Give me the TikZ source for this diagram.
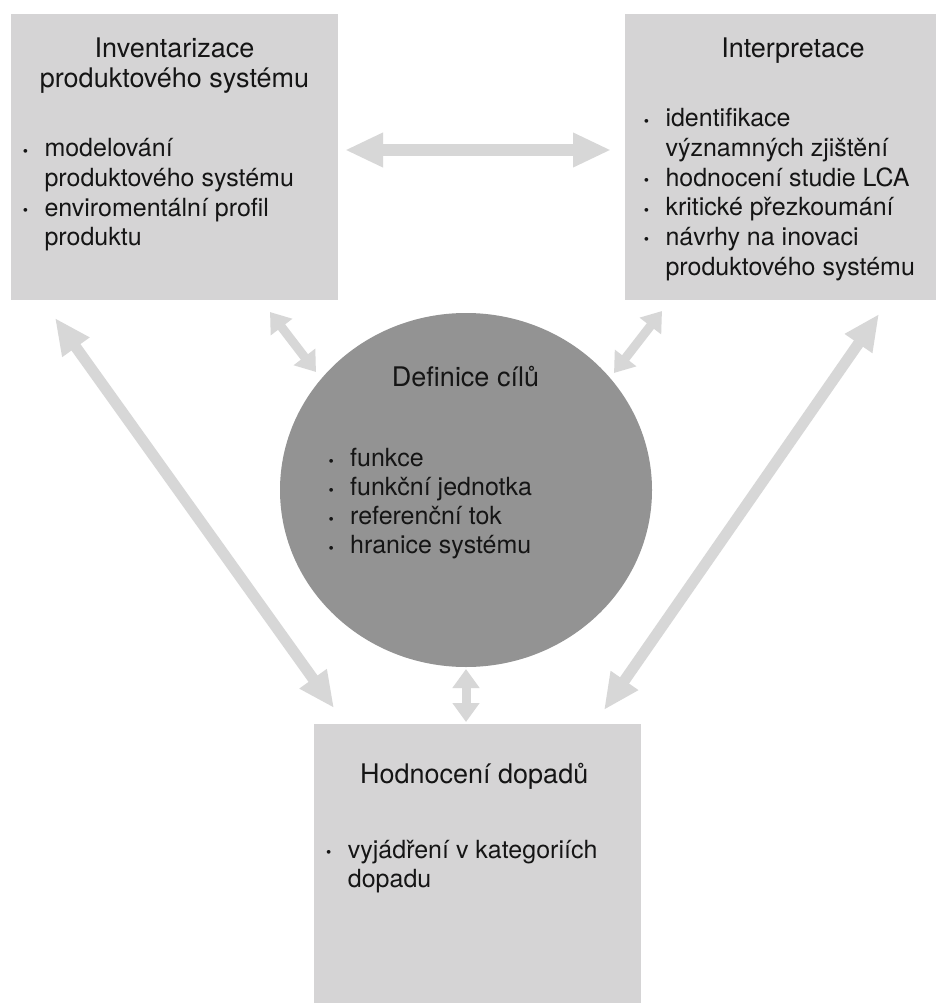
\documentclass[tikz,border=0pt]{standalone}
\usepackage{fontspec}
\setmainfont{TeX Gyre Heros}
\usetikzlibrary{arrows.meta,shapes.geometric}
\definecolor{boxgray}{HTML}{D5D4D5}
\definecolor{arrowgray}{HTML}{D7D7D7}
\definecolor{circgray}{HTML}{939393}
\definecolor{txtcol}{HTML}{151515}
\newcommand\bul{\makebox[22.5pt][l]{\hspace{0.8pt}\raisebox{0.8pt}{\scalebox{0.6}{•}}}}
\newcommand\ind{\makebox[22.5pt]{}}
\begin{document}
\begin{tikzpicture}[x=1pt,y=-1pt,
  box/.style={fill=boxgray,draw=none,rectangle,inner sep=0pt,outer sep=0pt},
  title/.style={font=\fontsize{27}{30}\selectfont,text=txtcol,inner sep=0pt},
  items/.style={font=\fontsize{25}{29.7}\selectfont,text=txtcol,inner sep=0pt,align=left,anchor=north west},
  bigarrow/.style={draw=arrowgray,line width=12pt,{Triangle[width=32pt,length=38pt]}-{Triangle[width=32pt,length=38pt]}},
  longarrow/.style={draw=arrowgray,line width=11pt,{Triangle[width=31pt,length=36pt]}-{Triangle[width=31pt,length=36pt]}},
  shortarrow/.style={draw=arrowgray,line width=9pt,{Triangle[width=26pt,length=19pt]}-{Triangle[width=26pt,length=19pt]}}
]
\useasboundingbox (0,0) rectangle (936,1003);
\fill[white] (0,0) rectangle (936,1003);

% boxes
\node[box,minimum width=327pt,minimum height=286pt] (inv) at (174.5,157) {};
\node[box,minimum width=311pt,minimum height=286pt] (int) at (780.5,157) {};
\node[box,minimum width=327pt,minimum height=279pt] (hod) at (477.5,863.5) {};
\node[ellipse,fill=circgray,draw=none,inner sep=0pt,minimum width=372pt,minimum height=354pt] (def) at (466,490) {};

% titles
\node[title,align=center,anchor=north] (invT) at (174.5,36.3) {\strut Inventarizace\\produktového systému};
\node[title,anchor=base] (intT) at (793,57.3) {Interpretace};
\node[title,anchor=base] (defT) at (465.5,386.7) {Definice cílů};
\node[title,anchor=base] (hodT) at (474.2,783.3) {Hodnocení dopadů};

% item lists
\node[items] (invL) at (21.8,135.9) {\strut\bul modelování\\\ind produktového systému\\\bul enviromentální profil\\\ind produktu};
\node[items] (intL) at (642.8,105.9) {\strut\bul identifikace\\\ind významných zjištění\\\bul hodnocení studie LCA\\\bul kritické přezkoumání\\\bul návrhy na inovaci\\\ind produktového systému};
\node[items,font=\fontsize{25}{29}\selectfont] (defL) at (327.5,446.4) {\strut\bul funkce\\\bul funkční jednotka\\\bul referenční tok\\\bul hranice systému};
\node[items,font=\fontsize{25}{29}\selectfont] (hodL) at (325.2,838) {\strut\bul vyjádření v kategoriích\\\ind dopadu};

% arrow end points
\coordinate (h1) at (345,150);
\coordinate (h2) at (611,150);
\coordinate (l1) at (55,318);
\coordinate (l2) at (334,708);
\coordinate (r1) at (879,314);
\coordinate (r2) at (604,710);
\coordinate (s1a) at (270,312);
\coordinate (s1b) at (316,372);
\coordinate (s2a) at (662,311);
\coordinate (s2b) at (614,373);
\coordinate (s3a) at (466,669);
\coordinate (s3b) at (466,722);

\draw[bigarrow] (h1) -- (h2);
\draw[longarrow] (l1) -- (l2);
\draw[longarrow] (r1) -- (r2);
\draw[shortarrow] (s1a) -- (s1b);
\draw[shortarrow] (s2a) -- (s2b);
\draw[shortarrow] (s3a) -- (s3b);
\end{tikzpicture}
\end{document}
